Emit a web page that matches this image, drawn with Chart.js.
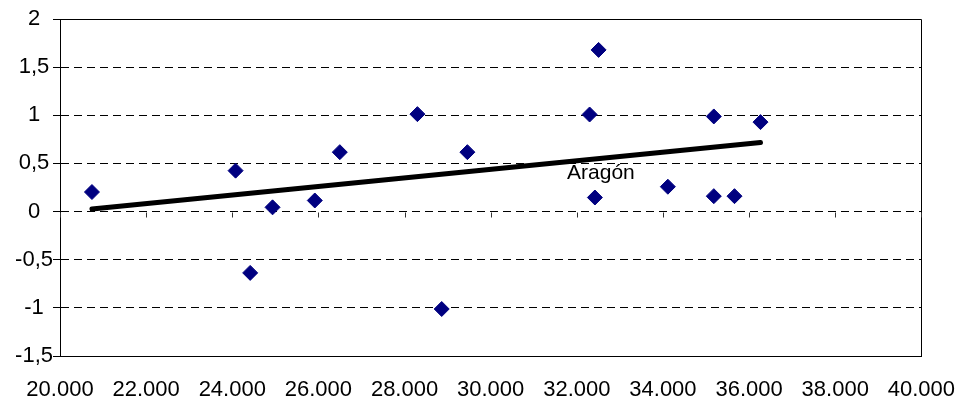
<!DOCTYPE html>
<html>
<head>
<meta charset="utf-8">
<script src="https://cdn.jsdelivr.net/npm/chart.js@4.4.1/dist/chart.umd.min.js"></script>
<style>
  html, body { margin: 0; padding: 0; background: #fff; }
  #c { display: block; }
</style>
</head>
<body>
<canvas id="c" width="957" height="397"></canvas>
<script>
// ---- data ----
const pointX = [20742, 24077, 24416, 24935, 25916, 26497, 28299, 28863, 29459, 32297, 32506, 32420, 34114, 35181, 35181, 35661, 36265];
const pointY = [0.203, 0.425, -0.637, 0.044, 0.115, 0.617, 1.012, -1.012, 0.617, 1.008, 1.679, 0.146, 0.258, 0.988, 0.160, 0.160, 0.929];
const trendX = [20742, 36265];
const trendY = [0.026, 0.717];
const labelText = 'Aragón';
const labelIndex = 11;
const xTickLabels = ['20.000', '22.000', '24.000', '26.000', '28.000', '30.000', '32.000', '34.000', '36.000', '38.000', '40.000'];
const yTickLabels = ['-1,5', '-1', '-0,5', '0', '0,5', '1', '1,5', '2'];

const FONT = "'Liberation Sans', Arial, sans-serif";

const scatterData = pointX.map((x, i) => ({ x: x, y: pointY[i] }));
const trendData = trendX.map((x, i) => ({ x: x, y: trendY[i] }));

const framePlugin = {
  id: 'frame',
  beforeDatasetsDraw(chart) {
    const { ctx, chartArea: a, scales } = chart;
    ctx.save();
    ctx.strokeStyle = '#000';
    ctx.lineWidth = 1;
    ctx.setLineDash([]);
    ctx.beginPath();
    ctx.moveTo(Math.round(a.left) + 0.5, Math.round(a.top) + 0.5);
    ctx.lineTo(Math.round(a.right) + 0.5, Math.round(a.top) + 0.5);
    ctx.lineTo(Math.round(a.right) + 0.5, Math.round(a.bottom) + 0.5);
    ctx.stroke();
    const y0 = Math.round(scales.y.getPixelForValue(0)) + 0.5;
    ctx.strokeStyle = '#333';
    ctx.beginPath();
    scales.x.ticks.forEach(t => {
      const px = Math.round(scales.x.getPixelForValue(t.value)) + 0.5;
      ctx.moveTo(px, y0);
      ctx.lineTo(px, y0 + 5);
    });
    ctx.stroke();
    ctx.restore();
  },
  afterDatasetsDraw(chart) {
    const { ctx, scales } = chart;
    const px = scales.x.getPixelForValue(pointX[labelIndex]);
    const py = scales.y.getPixelForValue(pointY[labelIndex]);
    ctx.save();
    ctx.fillStyle = '#000';
    ctx.font = '21px ' + FONT;
    ctx.textAlign = 'center';
    ctx.textBaseline = 'middle';
    ctx.fillText(labelText, px + 6, py - 24);
    ctx.restore();
  }
};

new Chart(document.getElementById('c'), {
  type: 'scatter',
  data: {
    datasets: [
      {
        type: 'line',
        data: trendData,
        borderColor: '#000',
        borderWidth: 5,
        borderCapStyle: 'round',
        pointRadius: 0,
        fill: false,
        order: 0
      },
      {
        data: scatterData,
        pointStyle: 'rectRot',
        pointRadius: 7.5,
        pointBackgroundColor: '#000080',
        pointBorderColor: '#000080',
        pointBorderWidth: 1,
        showLine: false,
        order: 1
      }
    ]
  },
  plugins: [framePlugin],
  options: {
    responsive: false,
    animation: false,
    events: [],
    layout: { padding: { top: 19, right: 35, bottom: 0, left: 0 } },
    plugins: { legend: { display: false }, tooltip: { enabled: false }, title: { display: false } },
    scales: {
      x: {
        type: 'linear',
        min: 20000,
        max: 40000,
        afterBuildTicks(scale) {
          scale.ticks = xTickLabels.map((_, i) => ({ value: 20000 + i * 2000 }));
        },
        afterFit(scale) { scale.height = 41; },
        grid: { drawOnChartArea: false, drawTicks: true, tickLength: 19, tickColor: 'rgba(0,0,0,0)' },
        border: { display: true, color: '#000', width: 1 },
        ticks: {
          color: '#000',
          font: { family: FONT, size: 22 },
          padding: 2,
          maxRotation: 0,
          autoSkip: false,
          callback: (v, i) => xTickLabels[i]
        }
      },
      y: {
        type: 'linear',
        min: -1.5,
        max: 2,
        afterBuildTicks(scale) {
          scale.ticks = yTickLabels.map((_, i) => ({ value: -1.5 + i * 0.5 }));
        },
        afterFit(scale) { scale.width = 60; },
        grid: {
          color: (c) => (c.tick && (c.tick.value === 2 || c.tick.value === -1.5)) ? 'rgba(0,0,0,0)' : '#000',
          lineWidth: 1,
          drawTicks: true,
          tickLength: 7,
          tickColor: '#000',
          tickBorderDash: []
        },
        border: { display: true, color: '#000', width: 1, dash: [8, 5] },
        ticks: {
          color: '#000',
          font: { family: FONT, size: 22 },
          padding: 0,
          crossAlign: 'center',
          autoSkip: false,
          callback: (v, i) => yTickLabels[i]
        }
      }
    }
  }
});
</script>
</body>
</html>
